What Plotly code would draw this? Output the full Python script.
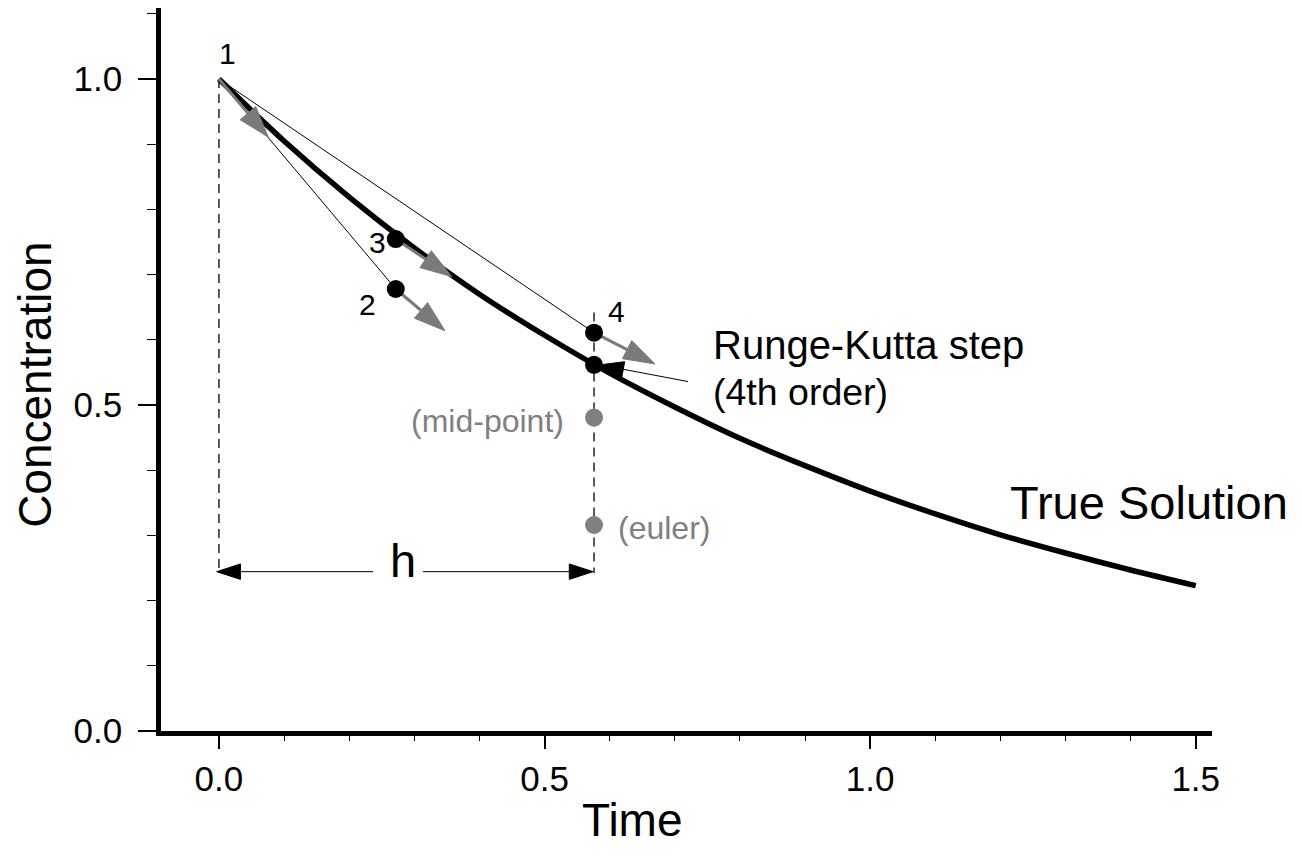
import plotly.graph_objects as go

# true solution curve
t_true = [0.0, 0.1, 0.2, 0.3, 0.4, 0.5, 0.6, 0.7, 0.8, 0.9, 1.0, 1.1, 1.2, 1.3, 1.4, 1.5]
c_true = [1.0, 0.905, 0.819, 0.741, 0.670, 0.607, 0.549, 0.497, 0.449, 0.407, 0.368, 0.333, 0.301, 0.273, 0.247, 0.223]

# step points
t_half = 0.2715
t_full = 0.576
black_t = [t_half, t_half, t_full, t_full]
black_c = [0.678, 0.7545, 0.611, 0.5616]      # points 2, 3, 4 and the RK result
grey_t = [t_full, t_full]
grey_c = [0.4807, 0.316]                      # mid-point, euler

# thin chords from point 1
chord_t = [0.0, t_half, None, 0.0, t_full]
chord_c = [1.0, 0.678, None, 1.0, 0.611]

# dashed guides
guide_t = [0.0, 0.0, None, t_full, t_full]
guide_c = [1.0, 0.25, None, 0.642, 0.242]

# slope arrows (tail -> tip)
slope_tail_t = [0.0, t_half, t_half, t_full]
slope_tail_c = [1.0, 0.678, 0.7545, 0.611]
slope_tip_t = [0.0757, 0.347, 0.3574, 0.6697]
slope_tip_c = [0.911, 0.614, 0.697, 0.563]

# pointer to the RK result and the "h" span arrows
rk_arrow_t = [0.7204, 0.585]
rk_arrow_c = [0.536, 0.5616]
h_y = 0.2444
h_left_t = [0.2366, -0.0035]
h_right_t = [0.3134, 0.5745]

FONT = "Liberation Sans, Arial, sans-serif"
GREY = "#7a7a7a"

fig = go.Figure()

fig.add_trace(go.Scatter(x=guide_t, y=guide_c, mode="lines",
                         line=dict(color="black", width=1.3, dash="9px,6px")))
fig.add_trace(go.Scatter(x=chord_t, y=chord_c, mode="lines",
                         line=dict(color="black", width=1)))
fig.add_trace(go.Scatter(x=t_true, y=c_true, mode="lines",
                         line=dict(color="black", width=5.5, shape="spline")))

for i in range(len(slope_tail_t)):
    fig.add_trace(go.Scatter(
        x=[slope_tail_t[i], slope_tip_t[i]], y=[slope_tail_c[i], slope_tip_c[i]],
        mode="lines+markers", line=dict(color=GREY, width=3),
        marker=dict(symbol="arrow", size=[0, 33], angleref="previous", opacity=1,
                    color=GREY, line=dict(width=1, color=GREY))))

fig.add_trace(go.Scatter(x=rk_arrow_t, y=rk_arrow_c, mode="lines+markers",
                         line=dict(color="black", width=1),
                         marker=dict(symbol="arrow", size=[0, 25], angleref="previous",
                                     opacity=1, color="black",
                                     line=dict(width=1, color="black"))))
for ht in [h_left_t, h_right_t]:
    fig.add_trace(go.Scatter(x=ht, y=[h_y, h_y], mode="lines+markers",
                             line=dict(color="black", width=1),
                             marker=dict(symbol="arrow", size=[0, 25], angleref="previous",
                                         opacity=1, color="black",
                                         line=dict(width=1, color="black"))))

fig.add_trace(go.Scatter(x=black_t, y=black_c, mode="markers",
                         marker=dict(color="black", size=18)))
fig.add_trace(go.Scatter(x=grey_t, y=grey_c, mode="markers",
                         marker=dict(color="#808080", size=18)))

def label(x, y, text, size, color="black", xanchor="center"):
    fig.add_annotation(x=x, y=y, xref="x", yref="y", text=text, showarrow=False,
                       xanchor=xanchor, yanchor="middle",
                       font=dict(family=FONT, size=size, color=color))

label(0.0138, 1.039, "1", 30)
label(0.228, 0.654, "2", 30)
label(0.244, 0.7496, "3", 30)
label(0.611, 0.643, "4", 30)
label(0.755, 0.592, "Runge-Kutta step", 40, xanchor="left")
label(0.755, 0.520, "(4th order)", 37.5, xanchor="left")
label(0.5335, 0.4757, "(mid-point)", 32, color="#808080", xanchor="right")
label(0.609, 0.3115, "(euler)", 32, color="#808080", xanchor="left")
label(1.212, 0.35, "True Solution", 47, xanchor="left")
label(0.2826, 0.261, "h", 47)

fig.add_annotation(x=0.449, y=-0.123, xref="paper", yref="paper", text="Time",
                   showarrow=False, xanchor="center", yanchor="middle",
                   font=dict(family=FONT, size=46, color="black"))
fig.add_annotation(x=-0.12, y=0.4786, xref="paper", yref="paper", text="Concentration",
                   showarrow=False, textangle=-90, xanchor="center", yanchor="middle",
                   font=dict(family=FONT, size=46, color="black"))

axis_common = dict(showline=True, linecolor="black", linewidth=4.5, ticks="outside",
                   tickcolor="black", tickwidth=1.5, showgrid=False, zeroline=False,
                   tickformat=".1f", tick0=0, dtick=0.5,
                   tickfont=dict(family=FONT, size=35, color="black"))

fig.update_xaxes(range=[-0.089, 1.525], ticklen=13, ticklabelstandoff=0,
                 minor=dict(dtick=0.1, ticks="outside", ticklen=5, tickwidth=1.2,
                            tickcolor="black", showgrid=False),
                 **axis_common)
fig.update_yaxes(range=[0, 1.109], ticklen=18, ticklabelstandoff=9,
                 minor=dict(dtick=0.1, ticks="outside", ticklen=9, tickwidth=1.2,
                            tickcolor="black", showgrid=False),
                 **axis_common)

fig.update_layout(width=1286, height=848, showlegend=False,
                  margin=dict(l=153, r=82, t=0, b=125),
                  plot_bgcolor="white", paper_bgcolor="white")

fig.write_html("out.html")
